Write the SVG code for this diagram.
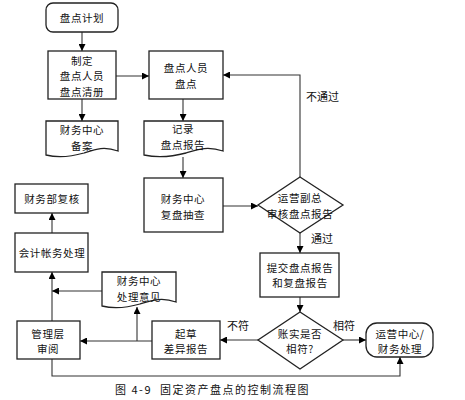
<svg xmlns="http://www.w3.org/2000/svg" width="465" height="400" viewBox="0 0 465 400">
<defs>
<marker id="ah" viewBox="0 0 10 10" refX="10" refY="5" markerWidth="7" markerHeight="7" markerUnits="userSpaceOnUse" orient="auto">
<path d="M0,0 L10,5 L0,10 Z" fill="#000"/>
</marker>
</defs>
<style>
.n{fill:#fff;stroke:#222;stroke-width:1.3}
.t{font-family:"Noto Sans CJK SC","Noto Sans",sans-serif;font-size:10.5px;fill:#111;text-anchor:middle;dominant-baseline:central;letter-spacing:0.6px}
.l{font-family:"Noto Sans CJK SC","Noto Sans",sans-serif;font-size:11px;fill:#111;dominant-baseline:central}
.cap{font-family:"Noto Sans CJK SC","Noto Sans",sans-serif;font-size:11px;fill:#111;dominant-baseline:central;letter-spacing:1.5px}
.c{fill:none;stroke:#333;stroke-width:1.1}
.a{marker-end:url(#ah)}
</style>
<rect width="465" height="400" fill="#fff"/>
<g id="connectors">
<line class="c a" x1="82" y1="32" x2="82" y2="51"/>
<line class="c a" x1="82" y1="99" x2="82" y2="121"/>
<line class="c a" x1="116" y1="76" x2="149" y2="76"/>
<line class="c a" x1="183" y1="99" x2="183" y2="121"/>
<line class="c a" x1="183" y1="157" x2="183" y2="178"/>
<line class="c a" x1="223" y1="206" x2="258" y2="206"/>
<polyline class="c a" points="300,177 300,75 223,75"/>
<line class="c a" x1="300" y1="233" x2="300" y2="253"/>
<line class="c a" x1="300" y1="297" x2="300" y2="312"/>
<line class="c a" x1="343" y1="340" x2="366" y2="340"/>
<line class="c a" x1="258" y1="340" x2="220" y2="340"/>
<line class="c a" x1="152" y1="341" x2="80" y2="341"/>
<line class="c a" x1="137" y1="341" x2="137" y2="307"/>
<line class="c a" x1="102" y1="291" x2="52" y2="291"/>
<line class="c a" x1="52" y1="321" x2="52" y2="272"/>
<line class="c a" x1="52" y1="233" x2="52" y2="213"/>
<polyline class="c a" points="52,359 52,376 400,376 400,357"/>
</g>
<g id="n1"><rect class="n" x="46" y="3" width="72" height="29" rx="7"/><text class="t" x="82" y="17">盘点计划</text></g>
<g id="n2"><rect class="n" x="48" y="51" width="68" height="48"/><text class="t"><tspan x="82" y="59.5">制定</tspan><tspan x="82" y="75">盘点人员</tspan><tspan x="82" y="90.5">盘点清册</tspan></text></g>
<g id="n3"><path class="n" d="M46,121 H118 V151 C104,146 96,149 84,153 C70,157 58,158 46,155 Z"/><text class="t"><tspan x="82" y="129">财务中心</tspan><tspan x="82" y="144.5">备案</tspan></text></g>
<g id="n4"><rect class="n" x="149" y="51" width="74" height="48"/><text class="t"><tspan x="186" y="67">盘点人员</tspan><tspan x="186" y="82.5">盘点</tspan></text></g>
<g id="n5"><path class="n" d="M144,121 H223 V151 C208,146 199,149 186,153 C171,157 158,158 144,155 Z"/><text class="t"><tspan x="183" y="128">记录</tspan><tspan x="183" y="143.5">盘点报告</tspan></text></g>
<g id="n6"><rect class="n" x="144" y="178" width="79" height="54"/><text class="t"><tspan x="183" y="198">财务中心</tspan><tspan x="183" y="213.5">复盘抽查</tspan></text></g>
<g id="n7"><polygon class="n" points="300,177 343,205 300,233 258,205"/><text class="t"><tspan x="300" y="197">运营副总</tspan><tspan x="300" y="212.5">审核盘点报告</tspan></text></g>
<g id="n8"><rect class="n" x="260" y="253" width="79" height="44"/><text class="t"><tspan x="300" y="266.5">提交盘点报告</tspan><tspan x="300" y="282">和复盘报告</tspan></text></g>
<g id="n9"><polygon class="n" points="300,312 343,340 300,369 258,340"/><text class="t"><tspan x="300" y="332.5">账实是否</tspan><tspan x="300" y="348">相符?</tspan></text></g>
<g id="n10"><rect class="n" x="366" y="323" width="67" height="34" rx="11"/><text class="t"><tspan x="400" y="332.5">运营中心/</tspan><tspan x="400" y="348">财务处理</tspan></text></g>
<g id="n11"><rect class="n" x="152" y="321" width="68" height="38"/><text class="t"><tspan x="186" y="332.5">起草</tspan><tspan x="186" y="348">差异报告</tspan></text></g>
<g id="n12"><rect class="n" x="17" y="321" width="63" height="38"/><text class="t"><tspan x="48" y="332.5">管理层</tspan><tspan x="48" y="348">审阅</tspan></text></g>
<g id="n13"><path class="n" d="M102,272 H176 V302 C162,297 153,300 140,304 C126,308 114,309 102,306 Z"/><text class="t"><tspan x="139" y="280">财务中心</tspan><tspan x="139" y="295.5">处理意见</tspan></text></g>
<g id="n14"><rect class="n" x="15" y="233" width="73" height="39"/><text class="t" x="52" y="252">会计帐务处理</text></g>
<g id="n15"><rect class="n" x="15" y="184" width="73" height="29"/><text class="t" x="52" y="198">财务部复核</text></g>
<g id="labels">
<text class="l" x="306" y="96">不通过</text>
<text class="l" x="311" y="238">通过</text>
<text class="l" x="333" y="325">相符</text>
<text class="l" x="227" y="325">不符</text>
<text class="cap" x="115" y="389">图 4-9</text>
<text class="cap" x="160" y="389">固定资产盘点的控制流程图</text>
</g>
</svg>
